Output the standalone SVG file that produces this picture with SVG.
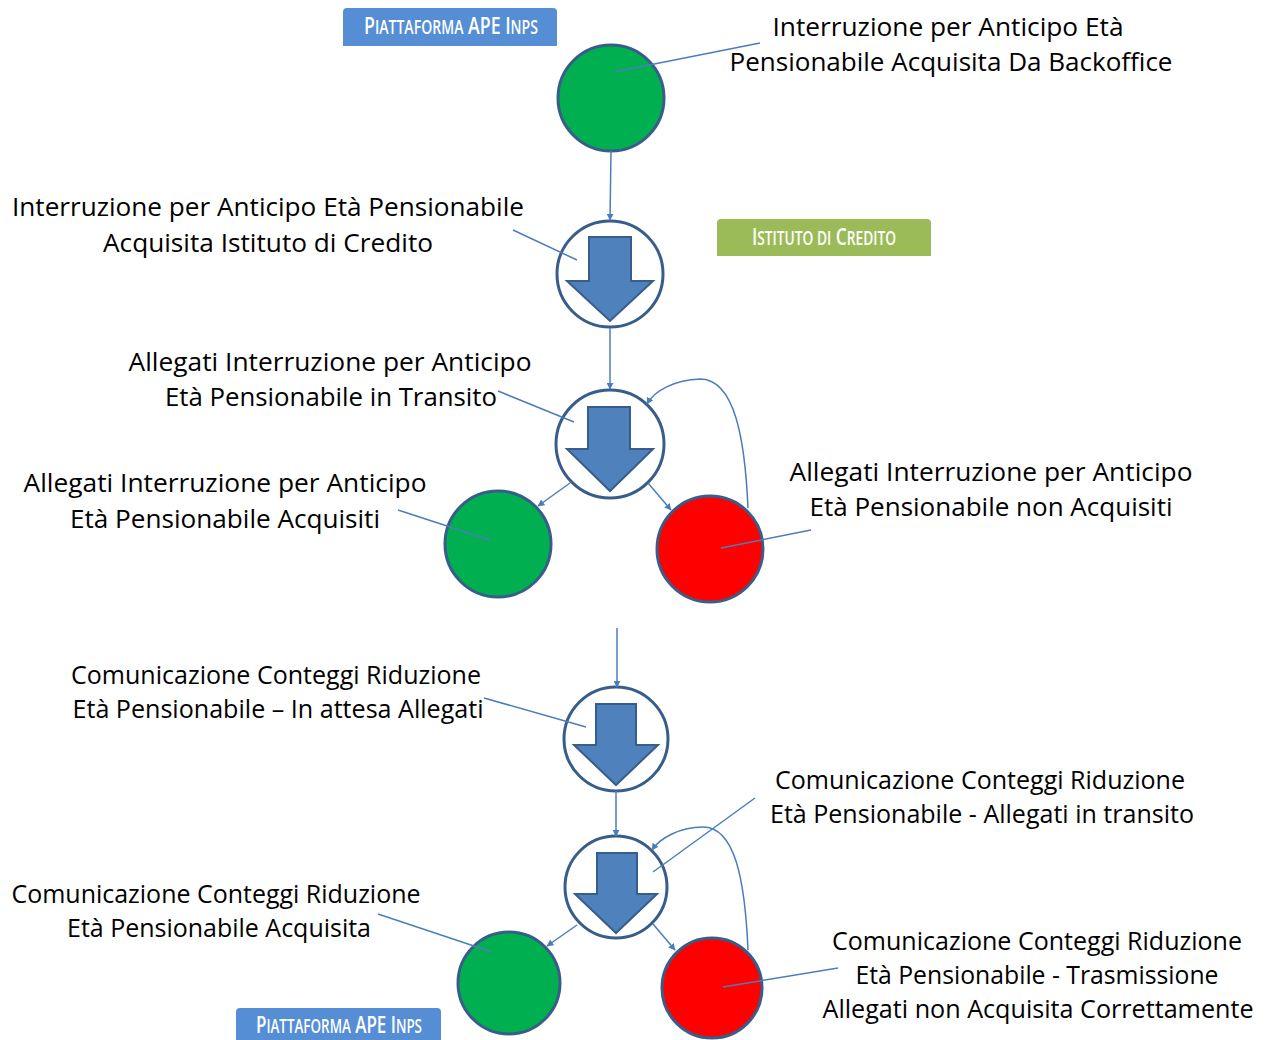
<svg xmlns="http://www.w3.org/2000/svg" width="1271" height="1040" viewBox="0 0 1271 1040">
<style>
.t{font-family:"Open Sans","Liberation Sans",sans-serif;font-size:25px;fill:#000;text-anchor:middle}
.lb{font-family:"Open Sans","Liberation Sans",sans-serif;font-size:24px;font-weight:600;fill:#fff;text-anchor:middle}
.s{font-size:19px}
.c{stroke:#385D8A;stroke-width:3}
.g{fill:#00B050}
.r{fill:#FF0000}
.w{fill:#fff}
.ar{fill:#4F81BD;stroke:#385D8A;stroke-width:2}
.ln{stroke:#4A7EBB;stroke-width:1.5;fill:none}
</style>
<defs>
<marker id="ah" viewBox="0 0 10 10" refX="9" refY="5" markerWidth="7" markerHeight="7" orient="auto" markerUnits="userSpaceOnUse" >
<path d="M0,0 L10,5 L0,10 z" fill="#4A7EBB"/>
</marker>
</defs>
<g id="labels">
<path d="M343,46 V12 Q343,8 347,8 H553 Q557,8 557,12 V46 Z" fill="#558ED5"/>
<text class="lb" x="451" y="34" textLength="174" lengthAdjust="spacingAndGlyphs">P<tspan class="s">IATTAFORMA</tspan> APE I<tspan class="s">NPS</tspan></text>
<path d="M717,256 V223 Q717,219 721,219 H927 Q931,219 931,223 V256 Z" fill="#9BBB59"/>
<text class="lb" x="824" y="245" textLength="144" lengthAdjust="spacingAndGlyphs">I<tspan class="s">STITUTO DI</tspan> C<tspan class="s">REDITO</tspan></text>
<path d="M236,1040 V1012 Q236,1008 240,1008 H437 Q441,1008 441,1012 V1040 Z" fill="#558ED5"/>
<text class="lb" x="339" y="1033" textLength="166" lengthAdjust="spacingAndGlyphs">P<tspan class="s">IATTAFORMA</tspan> APE I<tspan class="s">NPS</tspan></text>
</g>
<g id="n1">
<circle class="c g" cx="611" cy="98" r="53"/>
<text class="t" x="948" y="36" textLength="351" lengthAdjust="spacingAndGlyphs">Interruzione per Anticipo Età</text>
<text class="t" x="951" y="71" textLength="443" lengthAdjust="spacingAndGlyphs">Pensionabile Acquisita Da Backoffice</text>
</g>
<g id="n2">
<circle class="c w" cx="610" cy="274" r="53"/>
<path class="ar" d="M589,237 H631 V281 H653 L610,321 L567,281 H589 Z"/>
<text class="t" x="268" y="216" textLength="512" lengthAdjust="spacingAndGlyphs">Interruzione per Anticipo Età Pensionabile</text>
<text class="t" x="268" y="252" textLength="330" lengthAdjust="spacingAndGlyphs">Acquisita Istituto di Credito</text>
</g>
<g id="n3">
<circle class="c w" cx="610" cy="444" r="54"/>
<path class="ar" d="M588,407 H630 V449 H653 L610,491 L567,449 H588 Z"/>
<text class="t" x="330" y="371" textLength="403" lengthAdjust="spacingAndGlyphs">Allegati Interruzione per Anticipo</text>
<text class="t" x="331" y="406" textLength="332" lengthAdjust="spacingAndGlyphs">Età Pensionabile in Transito</text>
</g>
<g id="n4">
<circle class="c g" cx="498" cy="544" r="53"/>
<text class="t" x="225" y="492" textLength="403" lengthAdjust="spacingAndGlyphs">Allegati Interruzione per Anticipo</text>
<text class="t" x="225" y="528" textLength="310" lengthAdjust="spacingAndGlyphs">Età Pensionabile Acquisiti</text>
</g>
<g id="n5">
<circle class="c r" cx="710" cy="549" r="53"/>
<text class="t" x="991" y="481" textLength="403" lengthAdjust="spacingAndGlyphs">Allegati Interruzione per Anticipo</text>
<text class="t" x="991" y="516" textLength="363" lengthAdjust="spacingAndGlyphs">Età Pensionabile non Acquisiti</text>
</g>
<g id="n6">
<circle class="c w" cx="616" cy="739" r="52"/>
<path class="ar" d="M596,704 H636 V745 H658 L616,785 L574,745 H596 Z"/>
<text class="t" x="276" y="684" textLength="410" lengthAdjust="spacingAndGlyphs">Comunicazione Conteggi Riduzione</text>
<text class="t" x="278" y="718" textLength="411" lengthAdjust="spacingAndGlyphs">Età Pensionabile – In attesa Allegati</text>
</g>
<g id="n7">
<circle class="c w" cx="616" cy="887" r="51"/>
<path class="ar" d="M597,853 H637 V894 H657 L616,933 L575,894 H597 Z"/>
<text class="t" x="980" y="789" textLength="410" lengthAdjust="spacingAndGlyphs">Comunicazione Conteggi Riduzione</text>
<text class="t" x="982" y="823" textLength="424" lengthAdjust="spacingAndGlyphs">Età Pensionabile - Allegati in transito</text>
</g>
<g id="n8">
<circle class="c g" cx="509" cy="983" r="51"/>
<text class="t" x="216" y="903" textLength="409" lengthAdjust="spacingAndGlyphs">Comunicazione Conteggi Riduzione</text>
<text class="t" x="219" y="937" textLength="304" lengthAdjust="spacingAndGlyphs">Età Pensionabile Acquisita</text>
</g>
<g id="n9">
<circle class="c r" cx="712" cy="988" r="50"/>
<text class="t" x="1037" y="950" textLength="410" lengthAdjust="spacingAndGlyphs">Comunicazione Conteggi Riduzione</text>
<text class="t" x="1037" y="984" textLength="363" lengthAdjust="spacingAndGlyphs">Età Pensionabile - Trasmissione</text>
<text class="t" x="1038" y="1018" textLength="431" lengthAdjust="spacingAndGlyphs">Allegati non Acquisita Correttamente</text>
</g>
<g id="connectors">
<line class="ln" x1="611" y1="151" x2="610" y2="220" marker-end="url(#ah)"/>
<line class="ln" x1="610" y1="328" x2="610" y2="389" marker-end="url(#ah)"/>
<line class="ln" x1="570" y1="483" x2="538" y2="506" marker-end="url(#ah)"/>
<line class="ln" x1="648" y1="483" x2="671" y2="510" marker-end="url(#ah)"/>
<path class="ln" d="M748,508 C745,440 735,379 700,379 C675,380 655,390 647,404" marker-end="url(#ah)"/>
<line class="ln" x1="617" y1="628" x2="617" y2="687" marker-end="url(#ah)"/>
<line class="ln" x1="616" y1="791" x2="616" y2="836" marker-end="url(#ah)"/>
<line class="ln" x1="577" y1="925" x2="547" y2="946" marker-end="url(#ah)"/>
<line class="ln" x1="653" y1="924" x2="675" y2="950" marker-end="url(#ah)"/>
<path class="ln" d="M748,950 C745,880 735,827 703,827 C680,827 660,838 652,850" marker-end="url(#ah)"/>
<line class="ln" x1="760" y1="43" x2="614" y2="72"/>
<line class="ln" x1="513" y1="230" x2="577" y2="260"/>
<line class="ln" x1="498" y1="391" x2="574" y2="422"/>
<line class="ln" x1="398" y1="510" x2="490" y2="540"/>
<line class="ln" x1="811" y1="530" x2="721" y2="548"/>
<line class="ln" x1="484" y1="698" x2="586" y2="727"/>
<line class="ln" x1="755" y1="798" x2="653" y2="872"/>
<line class="ln" x1="378" y1="914" x2="492" y2="952"/>
<line class="ln" x1="838" y1="968" x2="723" y2="987"/>
</g>
</svg>
